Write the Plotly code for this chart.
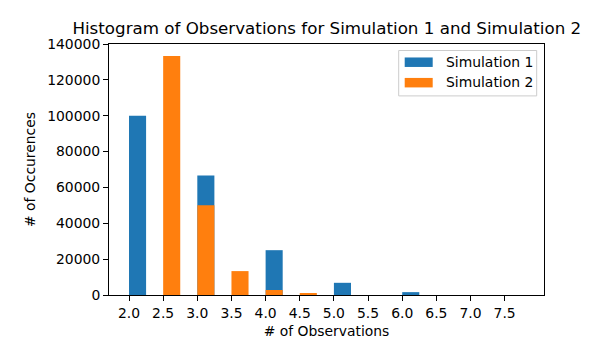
import plotly.graph_objects as go

# Data
sim1_x = [2.0, 3.0, 4.0, 5.0, 6.0]
sim1_counts = [100000, 66667, 25000, 6800, 1600]
sim2_x = [2.5, 3.0, 3.5, 4.0, 4.5]
sim2_counts = [133333, 50000, 13333, 2800, 700]
series_names = ["Simulation 1", "Simulation 2"]
x_ticks = [2.0, 2.5, 3.0, 3.5, 4.0, 4.5, 5.0, 5.5, 6.0, 6.5, 7.0, 7.5]
y_ticks = [0, 20000, 40000, 60000, 80000, 100000, 120000, 140000]

BLUE = "#1f77b4"
ORANGE = "#ff7f0e"
FONT = "DejaVu Sans"

W, H = 604, 357
L, R, T, B = 109.3, 544.3, 43.5, 295.0

fig = go.Figure()
fig.add_trace(go.Bar(x=sim1_x, y=sim1_counts, name=series_names[0], marker_color=BLUE,
                     marker_line_width=0, width=0.25, offset=0, showlegend=False))
fig.add_trace(go.Bar(x=sim2_x, y=sim2_counts, name=series_names[1], marker_color=ORANGE,
                     marker_line_width=0, width=0.25, offset=0, showlegend=False))

def px(xp):
    return (xp - L) / (R - L)

def py(yp):
    return (B - yp) / (B - T)

# Custom matplotlib-like legend
shapes = [
    dict(type="rect", xref="paper", yref="paper", x0=px(399), x1=px(537), y0=py(50), y1=py(95.5),
         line=dict(color="#cccccc", width=1), fillcolor="rgba(255,255,255,0.8)", layer="above"),
    dict(type="rect", xref="paper", yref="paper", x0=px(405), x1=px(433), y0=py(57), y1=py(66.5),
         line=dict(width=0), fillcolor=BLUE, layer="above"),
    dict(type="rect", xref="paper", yref="paper", x0=px(405), x1=px(433), y0=py(77.5), y1=py(87),
         line=dict(width=0), fillcolor=ORANGE, layer="above"),
]
annotations = [
    dict(text=series_names[0], xref="paper", yref="paper", x=px(444), y=py(61.5),
         xanchor="left", yanchor="middle", showarrow=False, font=dict(family=FONT, size=13.9, color="black")),
    dict(text=series_names[1], xref="paper", yref="paper", x=px(444), y=py(82),
         xanchor="left", yanchor="middle", showarrow=False, font=dict(family=FONT, size=13.9, color="black")),
]

fig.update_layout(
    width=W, height=H,
    margin=dict(l=L, r=W - R, t=T, b=H - B, pad=0, autoexpand=False),
    paper_bgcolor="white", plot_bgcolor="white",
    barmode="overlay",
    font=dict(family=FONT, size=13.9, color="black"),
    title=dict(text="Histogram of Observations for Simulation 1 and Simulation 2",
               x=(L + R) / 2 / W, xanchor="center", y=1 - 28.5 / H, yanchor="middle",
               font=dict(family=FONT, size=16.7, color="black"), automargin=False),
    shapes=shapes,
    annotations=annotations,
    showlegend=False,
)
fig.update_xaxes(
    range=[1.707, 8.076], tickvals=x_ticks, ticktext=[f"{v:.1f}" for v in x_ticks],
    showgrid=False, zeroline=False, showline=True, mirror=True, linecolor="black", linewidth=1,
    ticks="outside", ticklen=5, tickwidth=1, tickcolor="black", automargin=False,
    title=dict(text="# of Observations", standoff=6, font=dict(family=FONT, size=13.9)),
    tickfont=dict(family=FONT, size=13.9),
)
fig.update_yaxes(
    range=[0, 140000], tickvals=y_ticks, ticktext=[str(v) for v in y_ticks],
    showgrid=False, zeroline=False, showline=True, mirror=True, linecolor="black", linewidth=1,
    ticks="outside", ticklen=5, tickwidth=1, tickcolor="black", automargin=False,
    title=dict(text="# of Occurences", standoff=8, font=dict(family=FONT, size=13.9)),
    tickfont=dict(family=FONT, size=13.9),
)

fig.write_html("out.html",
               config={"displayModeBar": False},
               post_script="document.body.style.margin='0';document.body.style.padding='0';"
                           "document.body.style.overflow='hidden';")
